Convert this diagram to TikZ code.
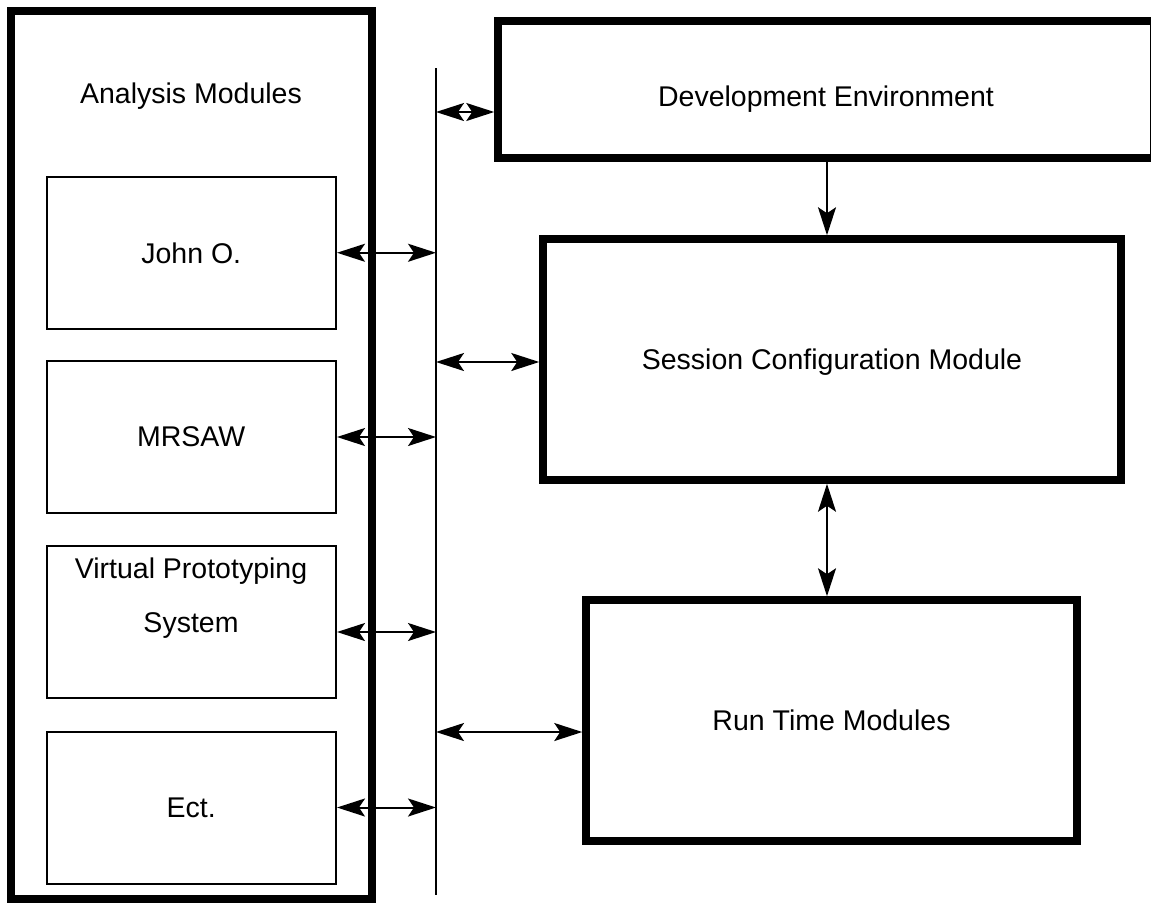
\documentclass[tikz,border=0pt]{standalone}
\usepackage{fontspec}
\setmainfont{Liberation Sans}
\usetikzlibrary{arrows.meta}
\tikzset{
  thickbox/.style={draw, line width=7.5pt, rectangle, inner sep=0pt},
  thinbox/.style={draw, line width=2pt, rectangle, inner sep=0pt, minimum width=289.5pt, minimum height=152.5pt},
  lbl/.style={inner sep=0pt, text depth=0pt, font=\fontsize{28.5}{54}\selectfont, align=center},
  arr/.style={line width=2pt, {Stealth[length=28pt,width=18pt,inset=6pt]}-{Stealth[length=28pt,width=18pt,inset=6pt]}},
  arrone/.style={line width=2pt, -{Stealth[length=28pt,width=18pt,inset=6pt]}},
  busline/.style={line width=2.5pt}
}
\begin{document}
\begin{tikzpicture}[x=1pt,y=-1pt]
\useasboundingbox (0,0) rectangle (1151,903);
% outer analysis box
\node[thickbox, line width=8pt, minimum width=361pt, minimum height=888pt] (outer) at (191.5,455) {};
\node[lbl] (outerlbl) at (191,93) {Analysis Modules};
% inner boxes
\node[thinbox, lbl, draw, line width=2pt, minimum width=289.5pt, minimum height=152.5pt] (john) at (191.25,252.75) {John O.};
\node[thinbox, lbl, draw, line width=2pt, minimum width=289.5pt, minimum height=152pt] (mrsaw) at (191.25,437) {MRSAW};
\node[thinbox] (vps) at (191.25,622) {};
\node[lbl] (vpslbl) at (191,595) {Virtual Prototyping\\System};
\node[thinbox, lbl, draw, line width=2pt, minimum width=289.5pt, minimum height=152pt] (ect) at (191.25,807.5) {Ect.};
% bus
\coordinate (bt) at (436,68);
\coordinate (bb) at (436,895);
\draw[busline] (bt) -- (bb);
% right boxes
\node[thickbox, minimum width=656pt, minimum height=137pt] (dev) at (826,89.5) {};
\node[lbl] (devlbl) at (826,96) {Development Environment};
\node[thickbox, lbl, draw, line width=7.5pt, minimum width=578pt, minimum height=241pt] (sess) at (832,359.5) {Session Configuration Module};
\node[thickbox, lbl, draw, line width=7.5pt, minimum width=491pt, minimum height=241pt] (run) at (831.5,720.5) {Run Time Modules};
% connectors
\draw[arr] (bt |- 0,112) -- (dev.west |- 0,112);
\draw[arr] (john.east) -- (john.east -| bt);
\draw[arr] (mrsaw.east) -- (mrsaw.east -| bt);
\draw[arr] (vps.east |- 0,632) -- (bt |- 0,632);
\draw[arr] (ect.east) -- (ect.east -| bt);
\draw[arr] (bt |- 0,362) -- (sess.west |- 0,362);
\draw[arr] (bt |- 0,732) -- (run.west |- 0,732);
\draw[arrone] (dev.south -| 827,0) -- (sess.north -| 827,0);
\draw[arr] (sess.south -| 827,0) -- (run.north -| 827,0);
\end{tikzpicture}
\end{document}
